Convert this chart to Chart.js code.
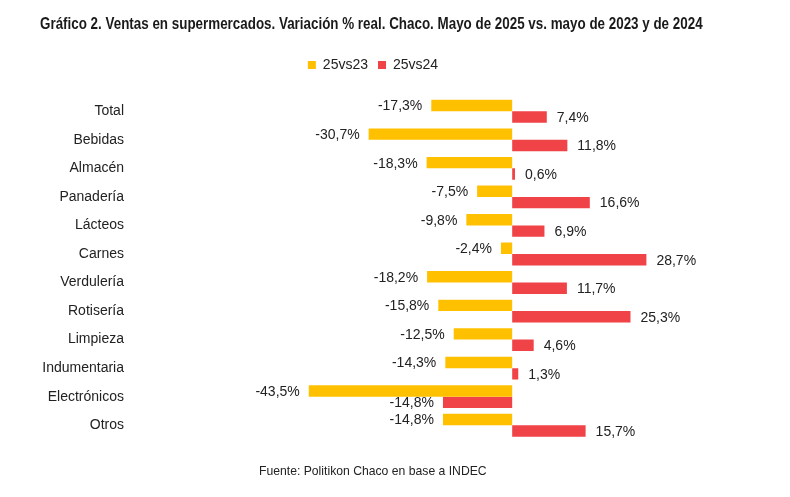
<!DOCTYPE html>
<html lang="es">
<head>
<meta charset="UTF-8">
<title>Ventas en supermercados Chaco</title>
<script src="https://cdn.jsdelivr.net/npm/chart.js"></script>
<style>
  body { margin: 0; background: #fff; }
  .lienzo { position: relative; width: 790px; height: 497px; }
  #grafico { position: absolute; left: 0; top: 0; }
  .titulo {
    position: absolute; left: 40px; top: 15px;
    font: bold 16px "Liberation Sans", Arial, sans-serif;
    color: #1a1a1a; white-space: nowrap;
    transform-origin: 0 0;
  }
  .fuente {
    position: absolute; left: 259px; top: 464px;
    font: 12.2px "Liberation Sans", Arial, sans-serif;
    color: #222; white-space: nowrap;
  }
</style>
</head>
<body>
<div class="lienzo">
  <canvas id="grafico" width="790" height="497"></canvas>
  <div class="titulo" id="titulo">Gráfico 2. Ventas en supermercados. Variación % real. Chaco. Mayo de 2025 vs. mayo de 2023 y de 2024</div>
  <div class="fuente">Fuente: Politikon Chaco en base a INDEC</div>
</div>

<script>
const rubros = ['Total', 'Bebidas', 'Almacén', 'Panadería', 'Lácteos', 'Carnes', 'Verdulería',
  'Rotisería', 'Limpieza', 'Indumentaria', 'Electrónicos', 'Otros'];
const var25vs23 = [-17.3, -30.7, -18.3, -7.5, -9.8, -2.4, -18.2, -15.8, -12.5, -14.3, -43.5, -14.8];
const var25vs24 = [7.4, 11.8, 0.6, 16.6, 6.9, 28.7, 11.7, 25.3, 4.6, 1.3, -14.8, 15.7];

const fuenteTexto = '"Liberation Sans", Arial, sans-serif';

// el titulo del original es condensado: lo angosto hasta su ancho
const titulo = document.getElementById('titulo');
titulo.style.transform = 'scaleX(' + (663 / titulo.offsetWidth) + ')';

// etiquetas de valor al final de cada barra
const etiquetas = {
  id: 'etiquetas',
  afterDatasetsDraw(chart) {
    const ctx = chart.ctx;
    ctx.save();
    ctx.font = '14px ' + fuenteTexto;
    ctx.fillStyle = '#222';
    ctx.textBaseline = 'middle';
    chart.data.datasets.forEach(function (ds, i) {
      chart.getDatasetMeta(i).data.forEach(function (barra, j) {
        const v = ds.data[j];
        const txt = v.toFixed(1).replace('.', ',') + '%';
        if (v < 0) {
          ctx.textAlign = 'right';
          ctx.fillText(txt, barra.x - 9, barra.y + 1);
        } else {
          ctx.textAlign = 'left';
          ctx.fillText(txt, barra.x + 10, barra.y + 1);
        }
      });
    });
    ctx.restore();
  }
};

// mas aire debajo de la leyenda
const espacioLeyenda = {
  id: 'espacioLeyenda',
  beforeInit(chart) {
    const fitOriginal = chart.legend.fit;
    chart.legend.fit = function () {
      fitOriginal.bind(chart.legend)();
      this.height += 15;
    };
  }
};

new Chart(document.getElementById('grafico'), {
  type: 'bar',
  data: {
    labels: rubros,
    datasets: [
      { label: '25vs23', data: var25vs23, backgroundColor: '#FFC000' },
      { label: '25vs24', data: var25vs24, backgroundColor: '#F04348' }
    ]
  },
  options: {
    indexAxis: 'y',
    responsive: false,
    animation: false,
    layout: { padding: { left: 0, right: 44, top: 48, bottom: 57.5 } },
    datasets: { bar: { categoryPercentage: 0.8, barPercentage: 1.0 } },
    plugins: {
      legend: {
        position: 'top',
        labels: {
          boxWidth: 8, boxHeight: 8, padding: 10,
          color: '#222',
          font: { size: 14, family: fuenteTexto }
        }
      },
      tooltip: { enabled: false }
    },
    scales: {
      x: {
        min: -81.3, max: 50,
        display: false
      },
      y: {
        grid: { display: false, drawTicks: false },
        border: { display: false },
        ticks: { padding: 8, color: '#222', font: { size: 14, family: fuenteTexto } },
        afterFit(scale) { scale.width = 132; }
      }
    }
  },
  plugins: [etiquetas, espacioLeyenda]
});
</script>
</body>
</html>
